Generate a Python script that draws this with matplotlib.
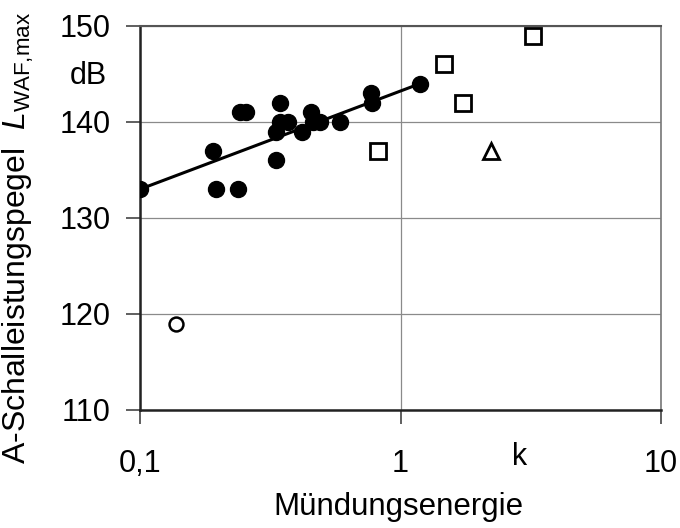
import numpy as np
import matplotlib
matplotlib.use('Agg')
import matplotlib.pyplot as plt
import matplotlib.transforms as mtransforms

plt.rcParams['font.family'] = ['Liberation Sans', 'DejaVu Sans']
plt.rcParams['mathtext.fontset'] = 'custom'
plt.rcParams['mathtext.rm'] = 'Liberation Sans'
plt.rcParams['mathtext.it'] = 'Liberation Sans:italic'

# filled circles
dot_x = [0.10, 0.19, 0.196, 0.237, 0.243, 0.256, 0.344, 0.333, 0.333, 0.344,
         0.371, 0.419, 0.453, 0.46, 0.49, 0.588, 0.77, 0.78, 1.19]
dot_y = [133, 137, 133, 133, 141, 141, 142, 136, 139, 140,
         140, 139, 141, 140, 140, 140, 143, 142, 144]
# open squares
sq_x = [0.82, 1.47, 1.74, 3.24]
sq_y = [137, 146, 142, 149]
# open triangle
tri_x = [2.23]
tri_y = [137]
# open circle
ring_x = [0.1375]
ring_y = [119]
# regression line
fit_x = [0.10, 1.19]
fit_y = [133.0, 144.0]

xticks = [0.1, 1, 10]
xlabels = ['0,1', '1', '10']
yticks = [110, 120, 130, 140, 150]

fig = plt.figure(figsize=(6.8, 5.28), dpi=100)
ax = fig.add_axes([140/680, 1-410/528, 521/680, 384/528])

ax.plot(fit_x, fit_y, color='black', lw=2.2, zorder=3)
ax.plot(dot_x, dot_y, 'o', color='black', ms=11.5, zorder=4)
ax.plot(sq_x, sq_y, 's', mfc='white', mec='black', ms=11, mew=2.0, zorder=4)
ax.plot(tri_x, tri_y, '^', mfc='white', mec='black', ms=11, mew=2.0, zorder=4)
ax.plot(ring_x, ring_y, 'o', mfc='white', mec='black', ms=10, mew=1.8, zorder=4)

ax.set_xscale('log')
ax.set_xlim(0.1, 10)
ax.set_ylim(110, 150)
ax.set_xticks(xticks)
ax.set_xticklabels(xlabels)
ax.xaxis.set_minor_locator(matplotlib.ticker.NullLocator())
ax.set_yticks(yticks)

ax.grid(True, color='#8a8a8a', lw=0.9)
ax.set_axisbelow(True)
ax.tick_params(axis='both', direction='out', length=10, width=1.2,
               color='#444444', labelsize=22)
ax.tick_params(axis='y', pad=11)
ax.tick_params(axis='x', pad=18)

for s in ['left', 'bottom']:
    ax.spines[s].set_color('#222222')
    ax.spines[s].set_linewidth(1.8)
ax.spines['top'].set_color('#555555')
ax.spines['top'].set_linewidth(1.5)
ax.spines['right'].set_color('#777777')
ax.spines['right'].set_linewidth(1.2)

trans = mtransforms.blended_transform_factory(ax.transAxes, ax.transData)
ax.text(-0.063, 144.8, 'dB', transform=trans, ha='right', va='center', fontsize=22)

fig.text(520/680, 1-465/528, 'k', ha='center', va='baseline', fontsize=22)
fig.text(398/680, 1-515/528, 'Mündungsenergie', ha='center', va='baseline',
         fontsize=22.5)
fig.text(18/680, 1-238/528,
         'A-Schalleistungspegel  $\\mathit{L}_{\\mathrm{WAF{,}max}}$',
         rotation=90, ha='center', va='center', fontsize=23)

fig.savefig('out.png', dpi=100)
